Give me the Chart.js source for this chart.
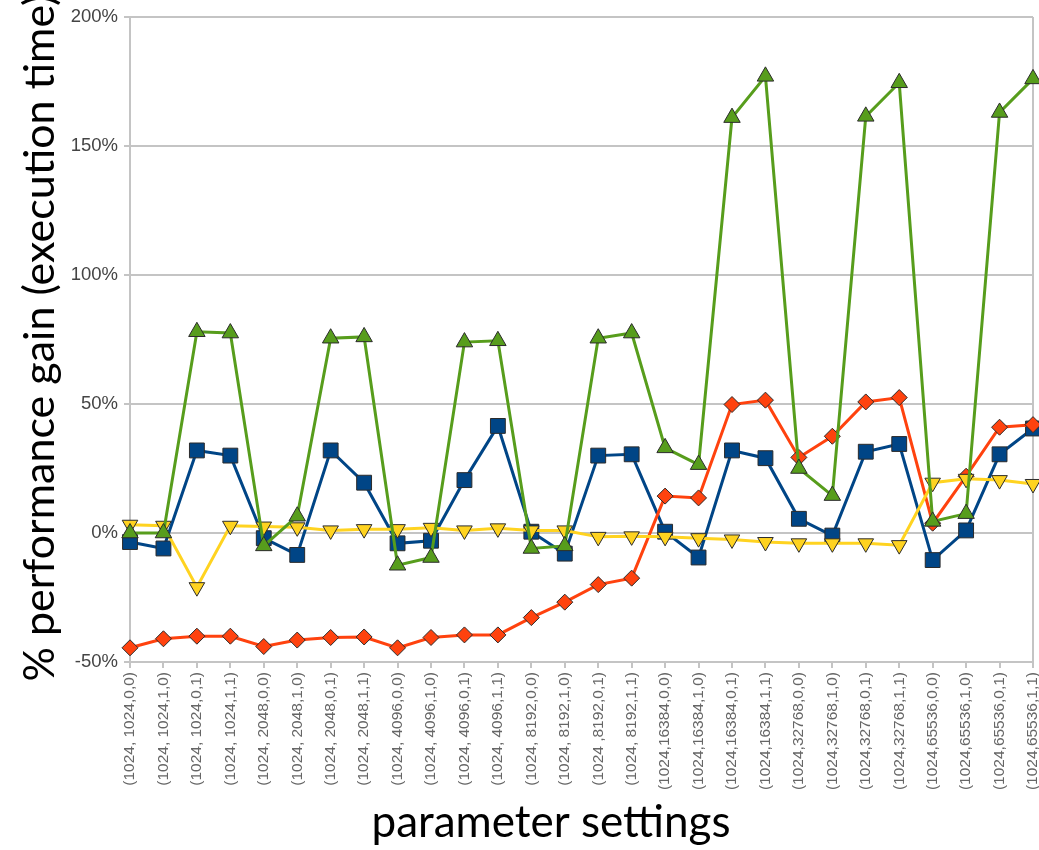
<!DOCTYPE html>
<html>
<head>
<meta charset="utf-8">
<script src="https://cdn.jsdelivr.net/npm/chart.js@4/dist/chart.umd.min.js"></script>
<style>
  html, body { margin: 0; padding: 0; background: #ffffff; overflow: hidden; }
  canvas { display: block; }
</style>
</head>
<body>
<canvas id="chart" width="1039" height="850"></canvas>
<script>
// Parameter settings along the horizontal axis
const categories = [
  '(1024, 1024,0,0)', '(1024, 1024,1,0)', '(1024, 1024,0,1)', '(1024, 1024,1,1)',
  '(1024, 2048,0,0)', '(1024, 2048,1,0)', '(1024, 2048,0,1)', '(1024, 2048,1,1)',
  '(1024, 4096,0,0)', '(1024, 4096,1,0)', '(1024, 4096,0,1)', '(1024, 4096,1,1)',
  '(1024, 8192,0,0)', '(1024, 8192,1,0)', '(1024 ,8192,0,1)', '(1024, 8192,1,1)',
  '(1024,16384,0,0)', '(1024,16384,1,0)', '(1024,16384,0,1)', '(1024,16384,1,1)',
  '(1024,32768,0,0)', '(1024,32768,1,0)', '(1024,32768,0,1)', '(1024,32768,1,1)',
  '(1024,65536,0,0)', '(1024,65536,1,0)', '(1024,65536,0,1)', '(1024,65536,1,1)'
];

// % performance gain per setting, one array per series
const gainSquares = [-3.5, -6, 32, 30, -2, -8.5, 32, 19.5, -4, -3, 20.5, 41.5, 0.5, -8,
  30, 30.5, 0.5, -9.5, 32, 29, 5.5, -1, 31.5, 34.5, -10.5, 1, 30.5, 40.5];
const gainDiamonds = [-44.5, -41, -40, -40, -44, -41.5, -40.5, -40.3, -44.5, -40.5, -39.5, -39.5, -32.8, -26.8,
  -20, -17.5, 14.3, 13.6, 49.8, 51.5, 29.3, 37.5, 50.8, 52.5, 3.8, 22, 41, 42];
const gainDownTriangles = [3.2, 2.8, -21, 2.8, 2.5, 2.2, 1, 1.5, 1.5, 2, 1, 1.8, 1, 1,
  -1.5, -1.3, -1.5, -2, -2.5, -3.5, -4, -4, -4, -4.7, 19.5, 21, 20.5, 19];
const gainTriangles = [0, 0, 78, 77.5, -5, 6.5, 75.5, 76, -12.5, -9.5, 74, 74.5, -6, -5,
  75.5, 77.5, 33, 26.5, 161, 177, 25, 14.5, 161.5, 174.5, 4.5, 7.5, 163, 176];

// Value axis ticks
const yTicks = [-50, 0, 50, 100, 150, 200];

const axisTitleY = '% performance gain (execution time)';
const axisTitleX = 'parameter settings';

const GRID = '#c4c4c4';
const OUTLINE = '#2b2b2b';

function series(label, data, color, style, radius, rotation, order) {
  return {
    label, data,
    borderColor: color,
    backgroundColor: color,
    borderWidth: 3,
    pointStyle: style,
    pointRadius: radius,
    pointRotation: rotation,
    pointBackgroundColor: color,
    pointBorderColor: OUTLINE,
    pointBorderWidth: 1,
    tension: 0,
    clip: false,
    order
  };
}

// Axis titles drawn straight onto the canvas
const axisTitles = {
  id: 'axisTitles',
  afterDraw(chart) {
    const ctx = chart.ctx;
    ctx.save();
    ctx.fillStyle = '#000000';
    ctx.font = '44px Lato';
    ctx.textAlign = 'center';
    ctx.textBaseline = 'alphabetic';
    ctx.fillText(axisTitleX, 551, 837);
    ctx.font = '43px Lato';
    ctx.translate(40, 338);
    ctx.rotate(-Math.PI / 2);
    ctx.textBaseline = 'middle';
    ctx.fillText(axisTitleY, 0, 0);
    ctx.restore();
  }
};

new Chart(document.getElementById('chart'), {
  type: 'line',
  data: {
    labels: categories,
    datasets: [
      series('A', gainSquares, '#004586', 'rect', 10.5, 0, 3),
      series('B', gainDiamonds, '#ff420e', 'rectRot', 8, 0, 2),
      series('C', gainDownTriangles, '#ffd320', 'triangle', 9, 180, 1),
      series('D', gainTriangles, '#579d1c', 'triangle', 9.5, 0, 0)
    ]
  },
  options: {
    responsive: false,
    animation: false,
    devicePixelRatio: 1,
    layout: { autoPadding: false, padding: { top: 17, right: 6, bottom: 0, left: 0 } },
    plugins: {
      legend: { display: false },
      tooltip: { enabled: false },
      title: { display: false }
    },
    scales: {
      x: {
        type: 'category',
        offset: false,
        border: { display: true, color: GRID, width: 2 },
        grid: {
          drawOnChartArea: true,
          color: (c) => (c.index === categories.length - 1 ? GRID : 'rgba(0,0,0,0)'),
          lineWidth: 2,
          tickColor: GRID,
          tickLength: 6,
          drawTicks: true
        },
        ticks: {
          autoSkip: false,
          minRotation: 90,
          maxRotation: 90,
          padding: 4,
          color: '#666666',
          font: { family: 'Liberation Sans', size: 15.5 }
        },
        afterFit(scale) {
          scale.height = 188;
          scale.paddingLeft = 0;
          scale.paddingRight = 0;
        }
      },
      y: {
        min: -50,
        max: 200,
        afterBuildTicks(scale) {
          scale.ticks = yTicks.map(v => ({ value: v }));
        },
        border: { display: true, color: GRID, width: 2 },
        grid: {
          color: GRID,
          lineWidth: 2,
          tickColor: GRID,
          tickLength: 6,
          drawTicks: true
        },
        ticks: {
          padding: 6,
          color: '#444444',
          font: { family: 'Liberation Sans', size: 18.5 },
          callback: (v) => v + '%'
        },
        afterFit(scale) {
          scale.width = 130;
          scale.paddingTop = 0;
          scale.paddingBottom = 0;
        }
      }
    }
  },
  plugins: [axisTitles]
});
</script>
</body>
</html>
